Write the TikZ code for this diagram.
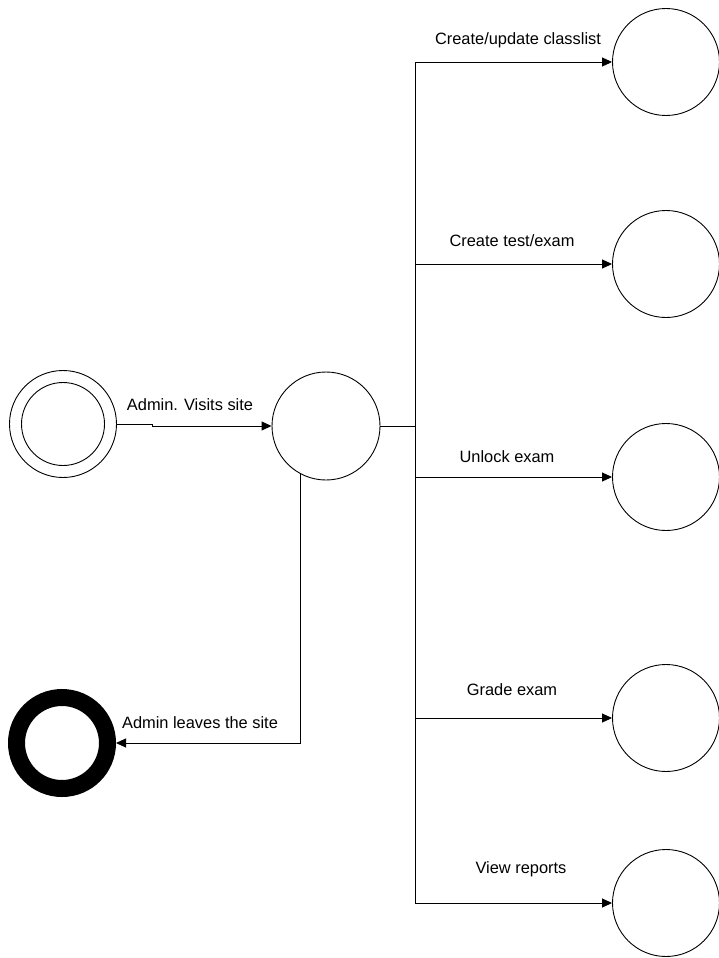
\documentclass[tikz,border=0pt]{standalone}
\usepackage{fontspec}
\setmainfont{Liberation Sans}
\usetikzlibrary{arrows.meta}
\begin{document}
\begin{tikzpicture}[x=1pt,y=-1pt,
  state/.style={circle,draw,line width=0.9pt,inner sep=0pt,minimum size=#1},
  lbl/.style={font=\fontsize{16.4}{19}\selectfont,inner sep=0pt},
  conn/.style={line width=0.9pt},
  arr/.style={line width=0.9pt,-{Triangle[length=10pt,width=9pt]}}]
\useasboundingbox (0,0) rectangle (719,958);
% start
\node[state=107pt] (s) at (63,424) {};
\node[state=83pt] (si) at (63,424) {};
% end
\node[circle,draw,line width=17pt,inner sep=0pt,minimum size=91pt] (e) at (62,743) {};
% middle
\node[state=108pt] (m) at (326,426) {};
% right states
\node[state=107pt] (c1) at (666,62) {};
\node[state=107pt] (c2) at (666,264) {};
\node[state=107pt] (c3) at (666,477) {};
\node[state=107pt] (c4) at (666,718) {};
\node[state=107pt] (c5) at (666,903) {};
% bus
\coordinate (bt) at (415,62);
\coordinate (bm) at (415,426);
\coordinate (b2) at (415,264);
\coordinate (b3) at (415,477);
\coordinate (b4) at (415,718);
\coordinate (bb) at (415,903);
\coordinate (j) at (152,424);
% connectors
\draw[arr] (s.east) -- (j) -- (j |- m.west) -- (m.west);
\draw[conn] (m.east) -- (bm);
\draw[conn] (bt) -- (bb);
\draw[arr] (bt) -- (c1.west);
\draw[arr] (b2) -- (c2.west);
\draw[arr] (b3) -- (c3.west);
\draw[arr] (b4) -- (c4.west);
\draw[arr] (bb) -- (c5.west);
\draw[arr] (m.242) |- (e.east);
% labels
\node[lbl] (l0) at (190,405) {Admin. Visits site};
\node[lbl] (l6) at (200,723) {Admin leaves the site};
\node[lbl] (l1) at (518,40) {Create/update classlist};
\node[lbl] (l2) at (512,241) {Create test/exam};
\node[lbl] (l3) at (507,457) {Unlock exam};
\node[lbl] (l4) at (512,690) {Grade exam};
\node[lbl] (l5) at (521,869) {View reports};
\end{tikzpicture}
\end{document}
